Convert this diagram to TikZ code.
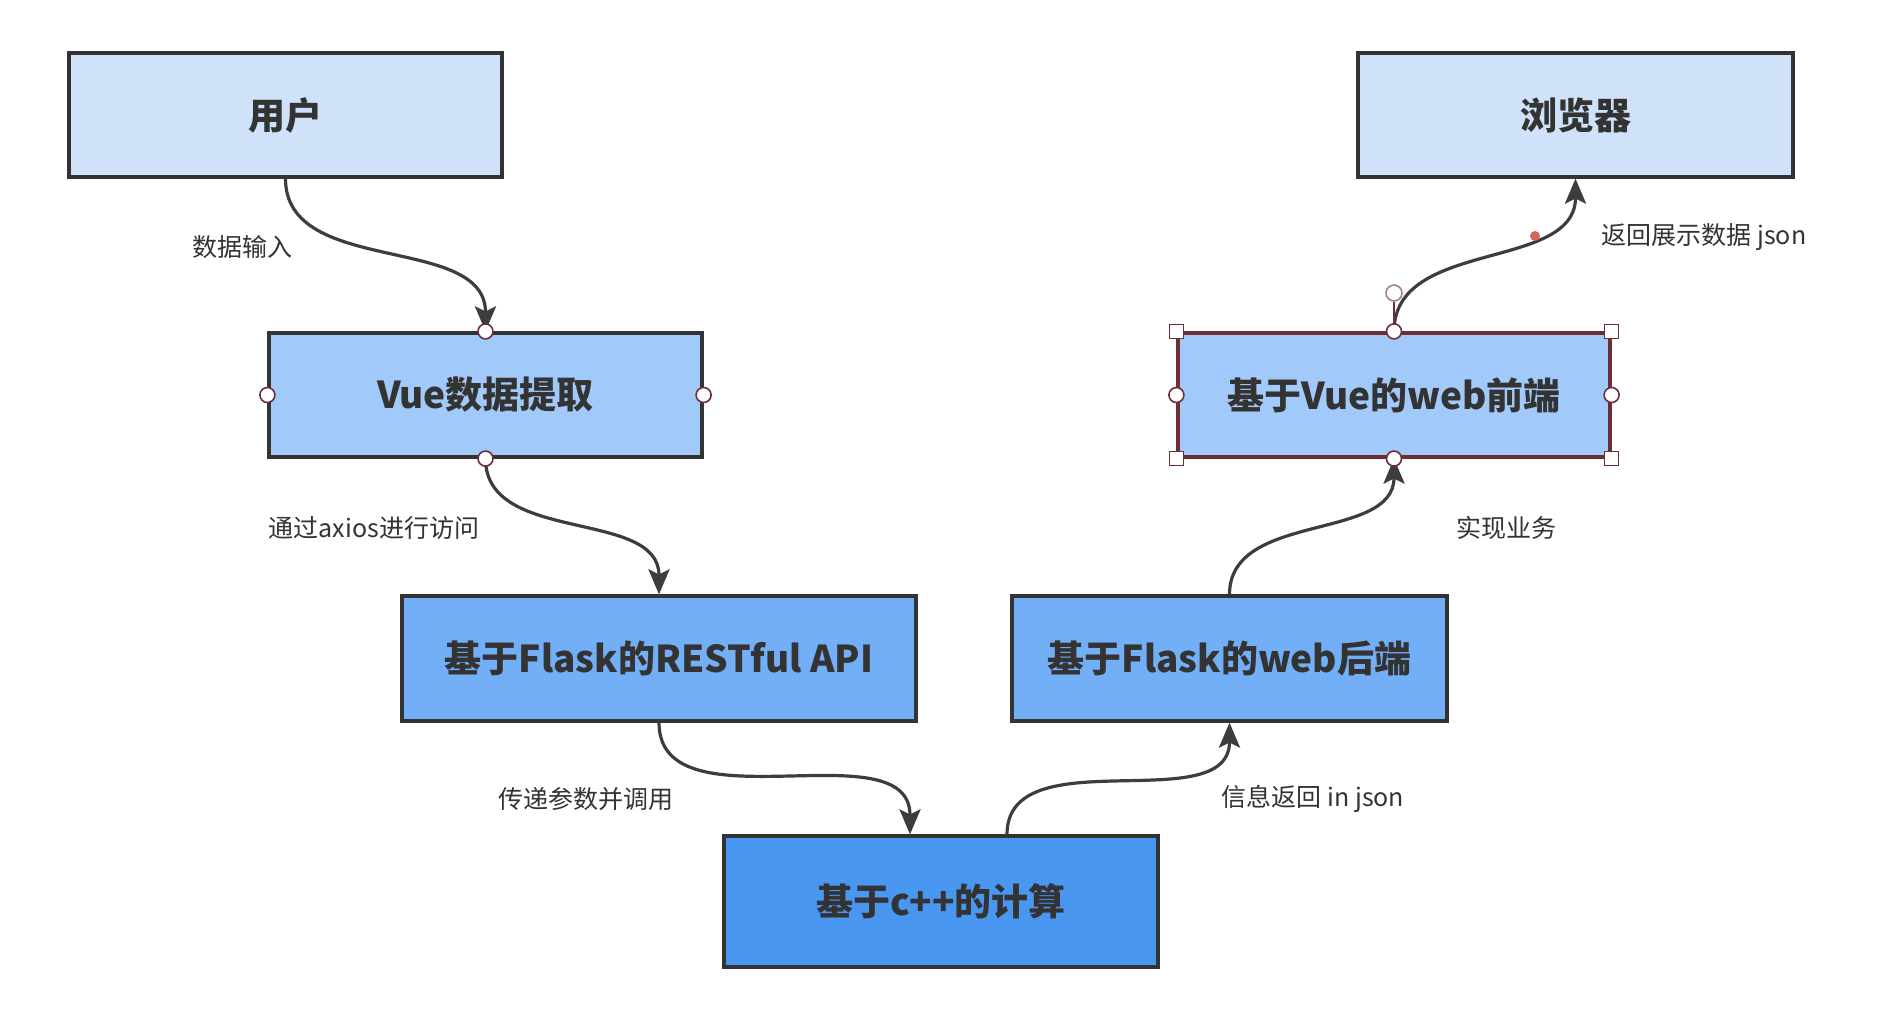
\documentclass[tikz,border=0pt]{standalone}
\usepackage{fontspec}
\newfontfamily\cjk{Noto Sans CJK SC}
\usepackage{tikz}
\usetikzlibrary{arrows.meta,positioning}

\definecolor{lvA}{HTML}{CFE2F9}
\definecolor{lvB}{HTML}{A1C9F9}
\definecolor{lvC}{HTML}{72AFF6}
\definecolor{lvD}{HTML}{4A97F1}
\definecolor{ink}{HTML}{333333}
\definecolor{sel}{HTML}{6B2E34}
\definecolor{dotred}{HTML}{D9645F}

\begin{document}
\begin{tikzpicture}[x=1pt, y=-1pt,
    box/.style={draw=ink, line width=3.2pt, minimum width=433pt, minimum height=124pt,
      text=ink, font=\cjk\bfseries\fontsize{37}{44}\selectfont},
    lbl/.style={text=ink, font=\cjk\fontsize{25}{30}\selectfont},
    flow/.style={draw=ink!95, line width=3.2pt, -{Stealth[length=25pt,width=21pt,inset=5pt]}},
    hnd/.style={circle, draw=sel, fill=white, line width=1.6pt, inner sep=0pt, minimum size=15pt},
    corner/.style={rectangle, draw=sel, fill=white, line width=1.6pt, inner sep=0pt, minimum size=14pt}]
      \useasboundingbox (0,0) rectangle (1898,1030);
      \node[box, fill=lvA] (Usr) at (285.5,115) {用户};
      \node[box, fill=lvA, minimum width=435pt] (Bro) at (1575.5,115) {浏览器};
      \node[box, fill=lvB] (Vue) at (485.5,395) {Vue数据提取};
      \node[box, fill=lvB, draw=sel, minimum width=432pt] (Fro) at (1394,395) {基于Vue的web前端};
      \node[box, fill=lvC, minimum width=514pt, minimum height=125pt] (Api) at (659,658.5) {基于Flask的RESTful API};
      \node[box, fill=lvC, minimum width=435pt, minimum height=125pt] (Web) at (1229.5,658.5) {基于Flask的web后端};
      \node[box, fill=lvD, minimum width=434pt, minimum height=131pt] (Cpp) at (941,901.5) {基于c++的计算};
      % edge labels
      \node[lbl] (L1) at (242,247) {数据输入};
      \node[lbl] (L2) at (374,528) {通过axios进行访问};
      \node[lbl] (L3) at (586,799) {传递参数并调用};
      \node[lbl] (L4) at (1313,799) {信息返回 in json};
      \node[lbl] (L5) at (1506,528) {实现业务};
      \node[lbl] (L6) at (1704,237) {返回展示数据 json};
      % connectors
      \draw[flow] (Usr.south) to[out=-90, in=90] (Vue.north);
      \draw[flow] (Vue.south) to[out=-90, in=90] (Api.north);
      \draw[flow] (Api.south) to[out=-90, in=90] ([xshift=-31pt]Cpp.north);
      \draw[flow] ([xshift=66pt]Cpp.north) to[out=90, in=-90] (Web.south);
      \draw[flow] (Web.north) to[out=90, in=-90] (Fro.south);
      \draw[flow] (Fro.north) to[out=90, in=-90] (Bro.south);
      % selection handles
      \node[hnd] (V1) at (Vue.north) {};
      \node[hnd] (V2) at (Vue.south) {};
      \node[hnd] (V3) at (Vue.west) {};
      \node[hnd] (V4) at (Vue.east) {};
      \node[corner] (F1) at (Fro.north west) {};
      \node[corner] (F2) at (Fro.north east) {};
      \node[corner] (F3) at (Fro.south west) {};
      \node[corner] (F4) at (Fro.south east) {};
      \node[hnd] (F5) at (Fro.west) {};
      \node[hnd] (F6) at (Fro.east) {};
      \node[hnd] (F7) at (Fro.south) {};
      \node[hnd, draw=sel!60, fill=none, minimum size=16pt] (Rot) at (1394,293) {};
      \draw[sel, line width=1.4pt] (Rot) -- (Fro.north);
      \node[hnd] (F8) at (Fro.north) {};
      \node[circle, fill=dotred, inner sep=0pt, minimum size=10pt] (Dot) at (1535,236) {};
    \end{tikzpicture}
\end{document}
